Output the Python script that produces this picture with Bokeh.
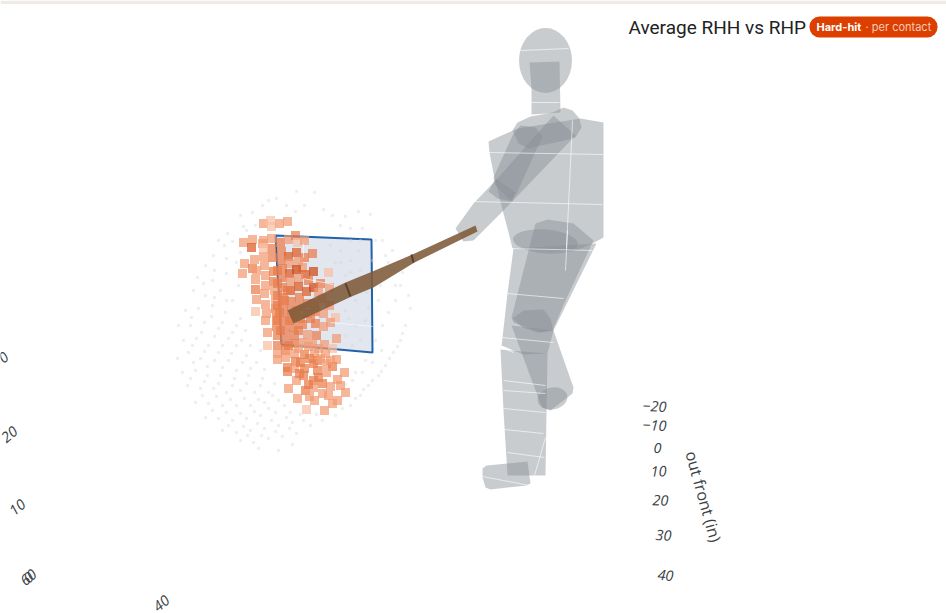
from bokeh.core.properties import value
from bokeh.embed import file_html
from bokeh.models import ColumnDataSource, LinearColorMapper, Range1d
from bokeh.plotting import figure
from bokeh.resources import INLINE

# -----------------------------
# Values (projected positions, px)
# -----------------------------
# swing contact cells that have a hard-hit rate: (x, y, rate)
hit_cells = [
    (263, 223, .2), (270, 220, .15), (271, 226, .15), (279, 223, .25), (287, 221, .2),
    (243, 242, .3), (252, 239, .2), (251, 247, .75), (263, 240, .3), (262, 243, .35), (271, 238, .3),
    (271, 248, .4), (263, 247, .15), (280, 242, .5), (288, 239, .35), (295, 235, .4), (297, 242, .1), (304, 240, .2),
    (263, 256, .3), (254, 259, .25), (244, 263, .25), (264, 265, .3), (272, 257, .55), (281, 251, .45),
    (288, 256, .65), (296, 252, .7), (312, 253, .55), (304, 257, .4), (281, 260, .5), (289, 263, .2), (298, 261, .3),
    (302, 267, .2), (252, 268, .5), (256, 270, .3), (242, 273, .25), (265, 275, .3), (273, 271, .6), (282, 268, .55),
    (289, 273, .75), (296, 269, 1.0), (305, 274, .7), (313, 271, .8), (328, 272, .1), (255, 279, .25), (273, 281, .4),
    (265, 285, .35), (282, 277, .5), (290, 281, .3), (298, 278, .3), (255, 289, .4), (264, 293, .35), (274, 290, .3),
    (282, 287, .5), (290, 290, .65), (298, 286, .75), (306, 291, .65), (313, 287, .8), (320, 283, .55), (329, 287, .2),
    (256, 299, .25), (265, 304, .3), (275, 299, .3), (283, 297, .45), (291, 301, .5), (299, 297, .6), (307, 303, .55),
    (314, 303, .5), (322, 298, .3), (255, 311, .15), (266, 313, .35), (275, 308, .4), (283, 306, .45), (291, 310, .55),
    (300, 306, .5), (329, 305, .25), (265, 320, .3), (276, 317, .45), (283, 315, .5), (292, 318, .5), (307, 313, .5),
    (315, 311, .4), (323, 313, .3), (335, 317, .15), (330, 322, .2), (267, 332, .35), (276, 326, .45), (284, 324, .5),
    (293, 327, .5), (302, 324, .55), (315, 323, .4), (323, 326, .3), (277, 335, .45), (285, 333, .5), (294, 335, .45),
    (307, 334, .35), (316, 335, .4), (336, 338, .25), (267, 345, .15), (277, 345, .4), (285, 342, .45), (294, 343, .4),
    (303, 342, .35), (312, 343, .35), (324, 344, .3), (332, 348, .15), (277, 353, .2), (277, 359, .3), (285, 350, .45),
    (285, 357, .35), (294, 353, .3), (304, 354, .45), (314, 353, .3), (325, 353, .2), (336, 359, .3), (287, 367, .5),
    (287, 371, .45), (295, 361, .55), (294, 368, .2), (304, 368, .55), (313, 363, .5), (317, 360, .45), (326, 363, .3),
    (332, 366, .4), (344, 372, .2), (296, 380, .35), (303, 375, .45), (313, 380, .45), (318, 377, .4), (326, 372, .35),
    (337, 379, .3), (330, 386, .35), (288, 388, .2), (305, 390, .55), (313, 387, .2), (345, 392, .2), (322, 393, .3),
    (297, 398, .3), (314, 400, .3), (337, 400, .2), (332, 403, .25), (306, 409, .1), (324, 410, .2),
    (280, 330, .45), (289, 320, .5), (298, 330, .5), (310, 318, .45), (284, 300, .45), (296, 310, .5), (300, 318, .5),
    (288, 345, .4), (298, 348, .35), (308, 346, .35), (318, 348, .3), (279, 312, .45), (287, 290, .5), (308, 280, .45),
    (318, 292, .35), (277, 270, .5), (277, 283, .5), (277, 295, .4), (277, 305, .45), (277, 320, .4),
    (299, 373, .45), (308, 384, .4), (317, 370, .45), (322, 383, .4), (309, 396, .3), (340, 385, .25), (328, 395, .3),
    (300, 362, .45), (309, 358, .45), (320, 358, .35), (330, 360, .25),
]

# cells of the swing volume with no hard contact
empty_cells = [
    (296, 191), (314, 192), (252, 212), (286, 205), (295, 211), (304, 205), (323, 209), (332, 215), (345, 216),
    (358, 211), (370, 214), (227, 233), (243, 226), (218, 240), (232, 241), (246, 230), (213, 255), (226, 258),
    (240, 252), (205, 265), (197, 277), (212, 280), (226, 273), (238, 285), (193, 290), (205, 295), (220, 290),
    (232, 300), (185, 310), (198, 308), (212, 305), (225, 312), (240, 318), (178, 325), (190, 325), (204, 322),
    (218, 328), (232, 332), (245, 330), (183, 340), (196, 338), (208, 345), (222, 345), (236, 345), (250, 345),
    (177, 358), (188, 352), (200, 358), (214, 360), (228, 360), (242, 362), (256, 362), (182, 372), (195, 370),
    (207, 375), (220, 375), (234, 378), (248, 375), (262, 378), (187, 385), (200, 388), (213, 388), (226, 392),
    (240, 390), (254, 392), (268, 392), (195, 402), (208, 403), (222, 405), (236, 405), (250, 405), (264, 402),
    (278, 400), (205, 417), (218, 418), (232, 420), (246, 418), (260, 415), (275, 412), (290, 412), (222, 430),
    (236, 432), (250, 430), (264, 428), (278, 425), (292, 422), (240, 440), (253, 442), (268, 438), (282, 436),
    (296, 433), (310, 425), (258, 448), (278, 450), (292, 444), (322, 420), (335, 415), (350, 405), (360, 395),
    (368, 385), (378, 375), (385, 365), (393, 352), (400, 340), (405, 325), (410, 308), (408, 295), (400, 285),
    (392, 270), (385, 255), (375, 240), (362, 228), (350, 228), (340, 225), (395, 300), (388, 312), (382, 325),
    (375, 340), (365, 360), (355, 372), (345, 384), (378, 300), (366, 292), (355, 300), (345, 310), (355, 325),
    (365, 320), (350, 260), (340, 250), (330, 245), (358, 250), (360, 270), (345, 275), (335, 262), (348, 290),
    (380, 285), (395, 285), (388, 262), (372, 260), (240, 215), (262, 205), (268, 200), (276, 198), (255, 225),
    (236, 262), (224, 245), (214, 270),
    (203, 283), (214, 297), (226, 300), (191, 317), (211, 316), (222, 322), (236, 325), (201, 332), (214, 336),
    (228, 338), (241, 340), (192, 345), (204, 351), (218, 352), (231, 353), (246, 355), (260, 350), (193, 362),
    (207, 366), (222, 367), (236, 370), (250, 368), (264, 369), (190, 378), (204, 381), (218, 383), (232, 385),
    (246, 383), (260, 385), (274, 383), (202, 395), (216, 396), (230, 399), (244, 398), (258, 399), (272, 395),
    (212, 410), (226, 412), (240, 413), (254, 411), (268, 408), (284, 405), (228, 425), (243, 426), (257, 423),
    (271, 420), (286, 417), (300, 414), (247, 435), (261, 435), (275, 431), (289, 428), (303, 420), (316, 414),
    (342, 408), (355, 398), (363, 389), (372, 380), (381, 371), (389, 358), (397, 346), (402, 333), (352, 380),
    (362, 372), (372, 362), (381, 350), (350, 240), (360, 240), (340, 262), (350, 272), (362, 282), (375, 272),
    (338, 300), (348, 318), (360, 340), (345, 335), (352, 345), (368, 307), (382, 240), (392, 250), (402, 272),
]

zone_x = [275, 371, 372, 281]
zone_y = [235, 239, 352, 344]

# batter model, one outline per body part
torso_x = [488, 517, 580, 603, 603, 592, 573, 512, 508, 503, 493, 489]
torso_y = [141, 128, 118, 122, 237, 243, 251, 248, 232, 213, 173, 152]
neck_x = [529, 559, 560, 531, 531]
neck_y = [62, 61, 112, 114, 88]
shoulder_x = [512, 517, 530, 552, 563, 572, 579, 581, 575, 560, 540, 528, 518]
shoulder_y = [130, 122, 116, 112, 107, 110, 118, 127, 137, 141, 145, 148, 143]
arm_a_x = [520, 535, 542, 516, 510, 495, 493, 512]
arm_a_y = [125, 127, 136, 193, 200, 185, 177, 135]
arm_b_x = [553, 575, 503, 473, 463, 455, 473, 495]
arm_b_y = [115, 135, 210, 240, 241, 228, 203, 180]
elbow_x = [495, 515, 512, 497, 488]
elbow_y = [178, 192, 201, 198, 191]
thigh_back_x = [513, 596, 553, 547, 523, 501, 502, 507]
thigh_back_y = [248, 243, 330, 353, 354, 345, 337, 293]
thigh_front_x = [535, 547, 573, 593, 565, 552, 540, 513, 511]
thigh_front_y = [223, 219, 223, 240, 300, 330, 332, 322, 317]
knee_x = [512, 523, 543, 550, 553, 537, 522]
knee_y = [318, 310, 309, 318, 330, 332, 327]
shin_back_x = [511, 553, 573, 572, 550, 542, 538]
shin_back_y = [325, 330, 387, 393, 410, 407, 398]
shin_front_x = [500, 547, 545, 507, 503]
shin_front_y = [349, 353, 475, 475, 410]
foot_x = [482, 486, 527, 530, 526, 490, 485, 482]
foot_y = [468, 465, 461, 483, 485, 489, 487, 477]

body_x = [torso_x, neck_x, shoulder_x, arm_a_x, arm_b_x, elbow_x, thigh_back_x, thigh_front_x, knee_x,
          shin_back_x, shin_front_x, foot_x]
body_y = [torso_y, neck_y, shoulder_y, arm_a_y, arm_b_y, elbow_y, thigh_back_y, thigh_front_y, knee_y,
          shin_back_y, shin_front_y, foot_y]

# head, hips, ankle: centre and size
joint_x = [545, 545, 552]
joint_y = [60, 241, 398]
joint_w = [53, 65, 30]
joint_h = [65, 24, 22]
joint_a = [0, -0.08, 0.2]

# white mesh lines over the model and the zone
mesh_x = [[488, 603], [473, 602], [572, 566], [520, 568], [530, 559], [512, 592], [507, 563], [501, 553], [500, 513],
          [503, 545], [503, 545], [503, 545], [504, 543], [507, 544], [482, 529], [567, 565], [534, 545],
          [303, 303], [303, 333], [330, 372]]
mesh_y = [[152, 154], [201, 204], [120, 248], [50, 48], [102, 102], [248, 250], [293, 298], [337, 342], [347, 352],
          [380, 385], [390, 393], [408, 412], [429, 433], [452, 457], [476, 485], [230, 270], [475, 437],
          [243, 257], [278, 284], [322, 326]]

bat_x = [287, 345, 372, 412, 475, 477, 414, 373, 351, 293]
bat_y = [310, 282, 271, 254, 225, 231, 262, 287, 296, 323]
bat_ring_x = [[345, 350], [411, 413]]
bat_ring_y = [[283, 296], [254, 262]]

tick_labels = ["\u221220", "\u221210", "0", "10", "20", "30", "40"]
tick_x = [654, 654, 657, 658, 660, 663, 665]
tick_y = [406, 425, 447, 471, 500, 535, 575]
tick_a = [-0.05, -0.05, 0, 0.03, -0.03, -0.05, -0.08]
far_labels = ["0", "20", "10", "60", "0", "40"]
far_x = [3, 9, 17, 28, 28, 161]
far_y = [357, 434, 507, 577, 577, 603]

# -----------------------------
# Figure
# -----------------------------
p = figure(
    width=946,
    height=613,
    x_range=Range1d(0, 946),
    y_range=Range1d(613, 0),
    output_backend="svg",
    toolbar_location=None,
    min_border=0,
    background_fill_color="white",
)
p.axis.visible = False
p.grid.visible = False
p.outline_line_color = None

# page strip on the top edge
p.quad(left=[0], right=[946], top=[0], bottom=[3.5], fill_color="#eeebe6", line_color=None)

# strike zone
p.patch(zone_x, zone_y, fill_color="#dfe5ee", fill_alpha=0.95, line_color=None)
p.line(zone_x + zone_x[:1], zone_y + zone_y[:1], line_color="#2261a8", line_width=2)

# swing volume
p.scatter([c[0] for c in empty_cells], [c[1] for c in empty_cells], marker="circle", size=3.5,
          fill_color="#d5d8dc", fill_alpha=0.42, line_color=None)

hit_source = ColumnDataSource(data=dict(
    x=[c[0] for c in hit_cells],
    y=[c[1] for c in hit_cells],
    rate=[c[2] for c in hit_cells],
))
mapper = LinearColorMapper(palette=["#f7bfa3", "#f19a72", "#e97c4b", "#dd5c27", "#cf4712"], low=0, high=1)
p.scatter("x", "y", source=hit_source, marker="square", size=9,
          fill_color={"field": "rate", "transform": mapper}, fill_alpha=0.72, line_color=None)

# batter
p.patches(body_x, body_y, fill_color="#888e95", fill_alpha=0.45, line_color=None)
p.ellipse(joint_x, joint_y, width=joint_w, height=joint_h, angle=joint_a,
          fill_color="#888e95", fill_alpha=0.45, line_color=None)
p.multi_line(mesh_x, mesh_y, line_color="white", line_width=1, line_alpha=0.6)

# bat
p.patch(bat_x, bat_y, fill_color="#7e5a39", fill_alpha=0.88, line_color=None)
p.multi_line(bat_ring_x, bat_ring_y, line_color="#5b4029", line_width=2)

# title and badge
p.text([628], [27], text=["Average RHH vs RHP"], text_font=value("Roboto"), text_font_size="19px",
       text_color="#222222", text_baseline="middle", text_align="left")
p.quad(left=[809], right=[937], top=[16], bottom=[37], fill_color="#dc3f00", line_color=None, border_radius=10)
p.text([816], [26], text=["Hard-hit"], text_font=value("Inter"), text_font_size="11px", text_font_style="bold",
       text_color="white", text_baseline="middle", text_align="left")
p.text([865], [26], text=["\u00b7 per contact"], text_font=value("Inter"), text_font_size="11px",
       text_color="#f6cdb8", text_baseline="middle", text_align="left")

# axis labels of the 3D scene
p.text(tick_x, tick_y, text=tick_labels, angle=tick_a, text_font=value("Open Sans"), text_font_size="14.5px",
       text_font_style="italic", text_color="#3a3f46", text_align="center", text_baseline="middle")
p.text(far_x, far_y, text=far_labels, angle=0.7, text_font=value("Open Sans"), text_font_size="14.5px",
       text_font_style="italic", text_color="#3a3f46", text_align="center", text_baseline="middle")
p.text([703], [496], text=["out front (in)"], angle=-1.3, text_font=value("Open Sans"), text_font_size="16px",
       text_color="#3a3f46", text_align="center", text_baseline="middle")

open("out.html", "w").write(file_html(p, INLINE))
